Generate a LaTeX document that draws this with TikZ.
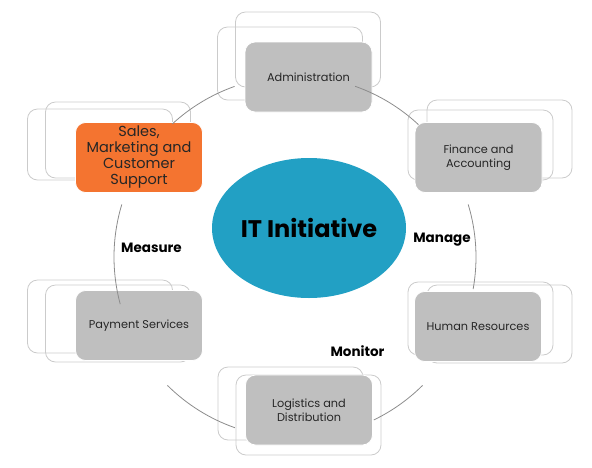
\documentclass[tikz,border=0pt]{standalone}
\usepackage{fontspec}
\setmainfont{Poppins}
\usetikzlibrary{shapes.geometric,calc}
\definecolor{boxgray}{HTML}{BFBFBF}
\definecolor{orangebox}{HTML}{F47430}
\definecolor{tealell}{HTML}{22A0C4}
\definecolor{outline}{HTML}{CBCBCB}
\definecolor{ringgray}{HTML}{8C8C8C}
\definecolor{txt}{HTML}{262626}
\tikzset{
  backbox/.style={draw=outline, line width=0.8pt, rounded corners=10pt, minimum width=145pt, minimum height=73pt, inner sep=0pt},
  mainbox/.style={fill=boxgray, draw=white, line width=0.8pt, rounded corners=10pt, minimum width=127pt, minimum height=70pt, inner sep=0pt, align=center, text=txt, font=\fontsize{11.3}{13.5}\selectfont},
  salesbox/.style={mainbox, fill=orangebox, font=\fontsize{14.5}{16}\selectfont},
  lbl/.style={font=\fontsize{13.5}{15}\selectfont\bfseries, text=black, inner sep=0pt, anchor=base},
  ringline/.style={draw=ringgray, line width=0.8pt}
}
\begin{document}
\begin{tikzpicture}[x=1pt,y=-1pt]
\useasboundingbox (0,0) rectangle (592,467);
% back boxes
\node[backbox] (adminA) at (290,63.5) {};
\node[backbox, minimum height=75pt] (adminB) at (308,49.5) {};
\node[backbox, minimum height=71pt] (salesA) at (100,144.5) {};
\node[backbox, minimum height=76pt] (salesB) at (118,140) {};
\node[backbox, minimum height=70pt] (finA) at (480.5,145) {};
\node[backbox, minimum height=78pt] (finB) at (499.5,139) {};
\node[backbox] (payA) at (100,316.5) {};
\node[backbox, minimum height=77pt] (payB) at (118,323.5) {};
\node[backbox] (hrA) at (480.5,318.5) {};
\node[backbox, minimum height=78pt] (hrB) at (499.5,324) {};
\node[backbox] (logA) at (290.5,403.5) {};
\node[backbox, minimum height=80pt] (logB) at (308.5,415) {};
% main boxes
\node[mainbox] (admin) at (308.5,77) {Administration};
\node[salesbox] (sales) at (139,157.5) {Sales,\\Marketing and\\Customer\\Support};
\node[mainbox] (fin) at (478.5,157.5) {Finance and\\Accounting};
\node[mainbox] (pay) at (139,325.5) {Payment Services};
\node[mainbox] (hr) at (478,326.5) {Human Resources};
\node[mainbox] (log) at (309,410) {Logistics and\\Distribution};
% centre
\node[ellipse, fill=tealell, minimum width=194pt, minimum height=140pt, inner sep=0pt, font=\fontsize{24}{28}\selectfont\bfseries, text=black] (it) at (309,228) {IT Initiative};
% ring connectors
\coordinate (ring) at (295,257);
\coordinate (c1) at ($(ring)+(132.6:181pt)$);
\coordinate (c2) at ($(ring)+(70.6:181pt)$);
\coordinate (c3) at ($(ring)+(16.9:181pt)$);
\coordinate (c4) at ($(ring)+(-45.2:181pt)$);
\coordinate (c5) at ($(ring)+(-109.4:181pt)$);
\coordinate (c6) at ($(ring)+(195.1:181pt)$);
\draw[ringline] (c1) arc[start angle=132.6, end angle=109.5, radius=181pt];
\draw[ringline] (c2) arc[start angle=70.6, end angle=47.0, radius=181pt];
\draw[ringline] (c3) arc[start angle=16.9, end angle=-10.2, radius=181pt];
\draw[ringline] (c4) arc[start angle=-45.2, end angle=-64.2, radius=181pt];
\draw[ringline] (c5) arc[start angle=-109.4, end angle=-134.8, radius=181pt];
\draw[ringline] (c6) arc[start angle=195.1, end angle=163.1, radius=181pt];
% labels
\node[lbl] (measure) at (151.5,252) {Measure};
\node[lbl] (manage) at (442,242) {Manage};
\node[lbl] (monitor) at (357.5,356) {Monitor};
\end{tikzpicture}
\end{document}
